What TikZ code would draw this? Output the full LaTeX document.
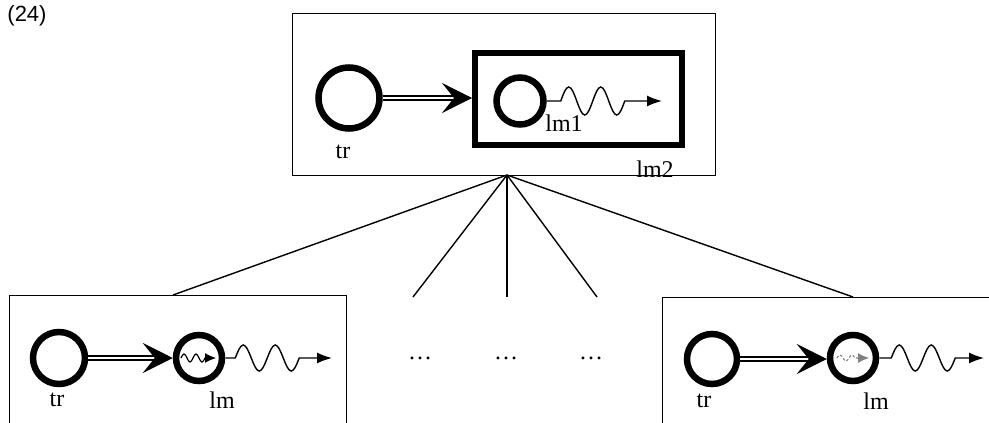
\documentclass[tikz,border=0pt]{standalone}
\usepackage{fontspec}
\setmainfont{Liberation Serif}
\newfontfamily\numfont{Liberation Sans}
\usetikzlibrary{arrows.meta}
\begin{document}
\begin{tikzpicture}[x=1pt,y=-1pt,
  frame/.style={draw, line width=1.4pt, inner sep=0pt},
  ring/.style={circle, draw, line width=6.5pt, inner sep=0pt, minimum size=#1},
  heavybox/.style={draw, line width=6pt, inner sep=0pt},
  lbl/.style={inner sep=0pt, font=\fontsize{24}{24}\selectfont},
  dblarrow/.style={double, double distance=2.4pt, line width=1.4pt,
     -{Stealth[length=30pt, width=30pt, inset=12pt]}},
  wave/.style={line width=1.4pt, -{Latex[length=15pt, width=11pt]}},
  fan/.style={line width=1.4pt},
]
\clip (0,0) rectangle (989,423);

% title number
\node[inner sep=0pt, font=\numfont\fontsize{22}{22}\selectfont] (num) at (27,16) {(24)};

% ---------- top box ----------
\node[frame, anchor=north west, minimum width=423pt, minimum height=162pt] (top) at (292,13) {};
\node[ring=61pt] (trT) at (349,98) {};
\node[heavybox, minimum width=207pt, minimum height=92pt] (lm2box) at (578.5,99) {};
\node[ring=47pt] (lm1) at (520,101) {};
\coordinate (lm1tip) at (662,101);
\draw[dblarrow] (trT.east) -- (lm2box.west |- trT.east);
\draw[wave] (lm1.east) -- ++(14,0) sin ++(8,-14) cos ++(8,14) sin ++(8,14) cos ++(8,-14)
   sin ++(8,-14) cos ++(8,14) sin ++(8,14) cos ++(8,-14) -- (lm1tip);
\node[lbl] (trTl) at (343,152) {tr};
\node[lbl] (lm1l) at (564,123) {lm1};
\node[lbl] (lm2l) at (655,169) {lm2};

% ---------- fan ----------
\coordinate (apex) at (507,175);
\coordinate (f1) at (173,295);
\coordinate (f2) at (413,297);
\coordinate (f3) at (507,297);
\coordinate (f4) at (597,297);
\coordinate (f5) at (853,297);
\foreach \f in {f1,f2,f3,f4,f5} \draw[fan] (apex) -- (\f);

% ---------- bottom left box ----------
\node[frame, anchor=north west, minimum width=337pt, minimum height=160pt] (boxL) at (9,295) {};
\node[ring=52pt] (trL) at (59,358) {};
\node[ring=46pt] (lmL) at (199,358) {};
\coordinate (lmLtip) at (332,358);
\draw[dblarrow] (trL.east) -- (lmL.west);
\draw[wave] (lmL.east) -- ++(10,0) sin ++(8,-13) cos ++(8,13) sin ++(8,13) cos ++(8,-13)
   sin ++(8,-13) cos ++(8,13) sin ++(8,13) cos ++(8,-13) -- (lmLtip);
\draw[line width=1.2pt, -{Latex[length=11pt, width=10pt]}] (181,358) sin ++(3,-4) cos ++(3,4) sin ++(3,4) cos ++(3,-4)
   sin ++(3,-4) cos ++(3,4) sin ++(3,4) cos ++(3,-4) -- (216,358);
\node[lbl] (trLl) at (57,400) {tr};
\node[lbl] (lmLl) at (222,400) {lm};

% ---------- dots ----------
\node[lbl] (d1) at (420,358) {\dots};
\node[lbl] (d2) at (506,358) {\dots};
\node[lbl] (d3) at (591,358) {\dots};

% ---------- bottom right box ----------
\node[frame, anchor=north west, minimum width=340pt, minimum height=160pt] (boxR) at (662,297) {};
\node[ring=50pt] (trR) at (712,359) {};
\node[ring=46pt] (lmR) at (853,358) {};
\coordinate (lmRtip) at (984,358);
\draw[dblarrow] (trR.east) -- (lmR.west |- trR.east);
\draw[wave] (lmR.east) -- ++(12,0) sin ++(8,-13) cos ++(8,13) sin ++(8,13) cos ++(8,-13)
   sin ++(8,-13) cos ++(8,13) sin ++(8,13) cos ++(8,-13) -- (lmRtip);
\draw[line width=1.1pt, gray, dash pattern=on 2.5pt off 2pt, -{Latex[length=11pt, width=10pt]}] (837,358) sin ++(3,-3) cos ++(3,3) sin ++(3,3) cos ++(3,-3)
   sin ++(3,-3) cos ++(3,3) -- (869,358);
\node[lbl] (trRl) at (704,401) {tr};
\node[lbl] (lmRl) at (876,401) {lm};
\end{tikzpicture}
\end{document}
